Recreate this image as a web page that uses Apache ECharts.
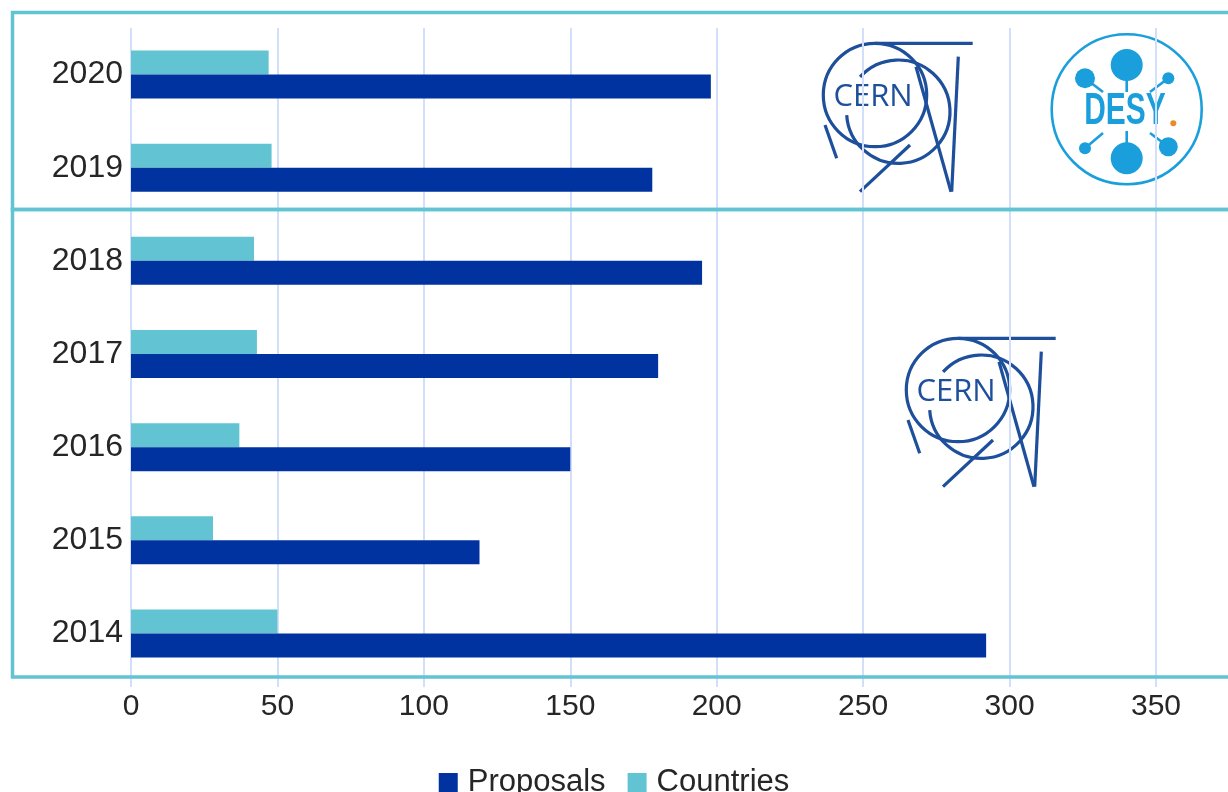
<!DOCTYPE html>
<html>
<head>
<meta charset="utf-8">
<script src="https://cdn.jsdelivr.net/npm/echarts@6/dist/echarts.min.js"></script>
<style>
html,body{margin:0;padding:0;background:#fff;}
#chart{width:1228px;height:792px;}
</style>
</head>
<body>
<div id="chart"></div>
<script>
const years = ['2014', '2015', '2016', '2017', '2018', '2019', '2020'];
const proposals = [292, 119, 150, 180, 195, 178, 198];
const countries = [50, 28, 37, 43, 42, 48, 47];
const xTicks = [0, 50, 100, 150, 200, 250, 300, 350];

const DARK = '#0033a0';
const TEAL = '#62c4d2';
const BOX = '#62c4d2';
const CERN_C = '#1d4f9b';
const DESY_C = '#1a9fdc';

function cernLogo(ox, oy) {
  const s = { stroke: CERN_C, lineWidth: 3.2, fill: null };
  return {
    type: 'group', x: ox, y: oy, z: 1,
    children: [
      { type: 'line', shape: { x1: 65, y1: 8.3, x2: 162.7, y2: 8.3 }, style: s },
      { type: 'circle', shape: { cx: 65, cy: 60, r: 51.7 }, style: s },
      { type: 'arc', shape: { cx: 88.3, cy: 76.7, r: 51.7, startAngle: 3.88, endAngle: 9.36, clockwise: true }, style: s },
      { type: 'line', shape: { x1: 15, y1: 90, x2: 26.7, y2: 123.3 }, style: s },
      { type: 'line', shape: { x1: 148.3, y1: 21.7, x2: 141.7, y2: 156.7 }, style: s },
      { type: 'line', shape: { x1: 106, y1: 31.7, x2: 141, y2: 156.7 }, style: s },
      { type: 'line', shape: { x1: 100, y1: 110, x2: 50, y2: 156.7 }, style: s },
      { type: 'text', x: 63, y: 62, style: { text: 'CERN', font: '400 31px "Open Sans"', fill: CERN_C, align: 'center', verticalAlign: 'middle' } }
    ]
  };
}

function desyLogo() {
  const ls = { stroke: DESY_C, lineWidth: 2.6 };
  const dot = (cx, cy, r) => ({ type: 'circle', shape: { cx, cy, r }, style: { fill: DESY_C } });
  const ln = (x1, y1, x2, y2) => ({ type: 'line', shape: { x1, y1, x2, y2 }, style: ls });
  return {
    type: 'group', z: 1,
    children: [
      { type: 'circle', shape: { cx: 1126.7, cy: 109.2, r: 75 }, style: { stroke: DESY_C, lineWidth: 2.6, fill: '#fff' } },
      ln(1126.7, 65, 1126.7, 92), ln(1126.7, 131, 1126.7, 158),
      ln(1085, 78.3, 1103, 92), ln(1168.3, 78.3, 1150, 92),
      ln(1085, 148.3, 1103, 133), ln(1168.3, 146.7, 1150, 133),
      dot(1126.7, 65, 16), dot(1126.7, 158.3, 16),
      dot(1085, 78.3, 10), dot(1168.3, 78.3, 6),
      dot(1085, 148.3, 6), dot(1168.3, 146.7, 9.5),
      { type: 'text', x: 1125, y: 112, scaleX: 0.68, style: { text: 'DESY', font: 'bold 44px "Liberation Sans"', fill: DESY_C, align: 'center', verticalAlign: 'middle' } },
      { type: 'circle', shape: { cx: 1173.3, cy: 123.3, r: 3 }, style: { fill: '#e98a2b' } }
    ]
  };
}

const chart = echarts.init(document.getElementById('chart'), null, { renderer: 'canvas' });
chart.setOption({
  backgroundColor: '#fff',
  animation: false,
  textStyle: { fontFamily: '"Liberation Sans", Arial, sans-serif', color: '#262626' },
  grid: { left: 131, right: 72, top: 28, height: 652, containLabel: false },
  legend: {
    data: ['Proposals', 'Countries'],
    left: 'center', top: 762,
    icon: 'rect', itemWidth: 19, itemHeight: 19, itemGap: 22,
    textStyle: { fontSize: 31, color: '#262626', padding: [0, 0, 0, 5] }
  },
  xAxis: {
    type: 'value', min: xTicks[0], max: xTicks[xTicks.length - 1], interval: 50,
    axisLine: { show: false },
    axisTick: { show: true, length: 7, lineStyle: { color: '#d3defa', width: 2 } },
    axisLabel: { fontSize: 30, color: '#262626', margin: 12 },
    splitLine: { show: true, lineStyle: { color: '#d3defa', width: 2 } }
  },
  yAxis: {
    type: 'category', data: years,
    axisLine: { show: false }, axisTick: { show: false },
    axisLabel: { fontSize: 32, color: '#262626', margin: 8 }
  },
  series: [
    { name: 'Countries', type: 'bar', data: countries, barWidth: 24, barGap: '0%', itemStyle: { color: TEAL } },
    { name: 'Proposals', type: 'bar', data: proposals, barWidth: 24, barGap: '0%', itemStyle: { color: DARK } }
  ],
  graphic: [
    cernLogo(810, 35),
    cernLogo(893, 330),
    desyLogo(),
    { type: 'rect', z: 100, shape: { x: 12.5, y: 12.5, width: 1240, height: 197 }, style: { fill: null, stroke: BOX, lineWidth: 3.5 } },
    { type: 'rect', z: 100, shape: { x: 12.5, y: 209.5, width: 1240, height: 467.5 }, style: { fill: null, stroke: BOX, lineWidth: 3.5 } }
  ]
});
</script>
</body>
</html>
